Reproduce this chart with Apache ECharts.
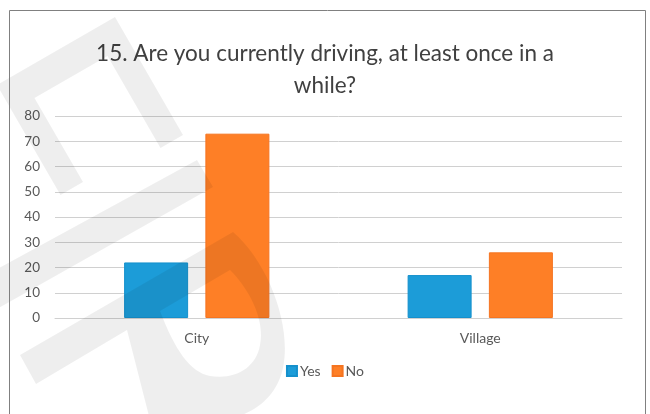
<!DOCTYPE html>
<html><head><meta charset="utf-8">
<script src="https://cdn.jsdelivr.net/npm/echarts@6/dist/echarts.min.js"></script>
<style>html,body{margin:0;padding:0;background:#fff}#c{width:650px;height:414px}</style>
</head><body><div id="c"></div>
<script>
const categories = ['City', 'Village'];
const yesValues = [22, 17];
const noValues = [73, 26];
const seriesNames = ['Yes', 'No'];
const titleText = '15. Are you currently driving, at least once in a\nwhile?';

// watermark letter "R" (decorative background, not data)
const RShape = echarts.graphic.extendShape({
  type: 'wmR',
  shape: {},
  buildPath: function (ctx) {
    ctx.moveTo(20, 355);
    ctx.lineTo(233, 232);
    ctx.bezierCurveTo(268, 262, 292, 325, 283, 368);
    ctx.bezierCurveTo(275, 405, 240, 425, 195, 420);
    ctx.lineTo(150, 420);
    ctx.lineTo(127, 330);
    ctx.lineTo(36, 384);
    ctx.closePath();
    ctx.moveTo(160, 311);
    ctx.bezierCurveTo(175, 350, 190, 372, 210, 376);
    ctx.bezierCurveTo(235, 380, 256, 368, 260, 345);
    ctx.bezierCurveTo(265, 320, 250, 290, 230, 270);
    ctx.closePath();
  }
});
echarts.graphic.registerShape('wmR', RShape);

const chart = echarts.init(document.getElementById('c'), null, {renderer: 'canvas'});
const font = 'Lato, "Open Sans", sans-serif';
const wm = 'rgba(0,0,0,0.065)';
chart.setOption({
  animation: false,
  backgroundColor: '#fff',
  title: {
    text: titleText, left: 'center', top: 33,
    textStyle: {fontFamily: font, fontSize: 22.5, fontWeight: 'normal', color: '#404040', lineHeight: 32}
  },
  legend: {
    data: seriesNames, bottom: 31, left: 'center', itemWidth: 10, itemHeight: 10, itemGap: 11,
    icon: 'rect',
    textStyle: {fontFamily: font, fontSize: 14, color: '#595959', padding: [0, 0, 0, -2]}
  },
  grid: {left: 55, right: 28, top: 116, bottom: 96, containLabel: false},
  xAxis: {
    type: 'category', data: categories,
    axisLine: {lineStyle: {color: '#d0d0d0', width: 1}},
    axisTick: {show: false},
    axisLabel: {fontFamily: font, fontSize: 14, color: '#595959', margin: 13}
  },
  yAxis: {
    type: 'value', min: 0, max: 80, interval: 10,
    axisLine: {show: false}, axisTick: {show: false},
    splitLine: {lineStyle: {color: '#d0d0d0', width: 1}},
    axisLabel: {fontFamily: font, fontSize: 13.5, color: '#595959', margin: 15}
  },
  graphic: [
    {type: 'rect', shape: {x: 9.5, y: 10.5, width: 636, height: 420}, style: {fill: 'none', stroke: '#808080', lineWidth: 1}, z: 100},
    {type: 'polygon', z: 90, silent: true,
     shape: {points: [[-3, 85], [115, 17], [183, 135], [160.5, 148], [107.5, 56], [34.5, 98], [83, 182], [60.5, 195]]},
     style: {fill: wm}},
    {type: 'polygon', z: 90, silent: true,
     shape: {points: [[-10, 273], [197, 160], [213, 187], [-10, 313]]},
     style: {fill: wm}},
    {type: 'wmR', z: 90, silent: true, shape: {}, style: {fill: wm}}
  ],
  series: [
    {name: seriesNames[0], type: 'bar', data: yesValues, barWidth: 64, barGap: '27%',
     itemStyle: {color: '#1c9cd8', borderColor: '#1590cc', borderWidth: 1}},
    {name: seriesNames[1], type: 'bar', data: noValues, barWidth: 64,
     itemStyle: {color: '#fe7f26', borderColor: '#f57420', borderWidth: 1}}
  ]
});
</script></body></html>
